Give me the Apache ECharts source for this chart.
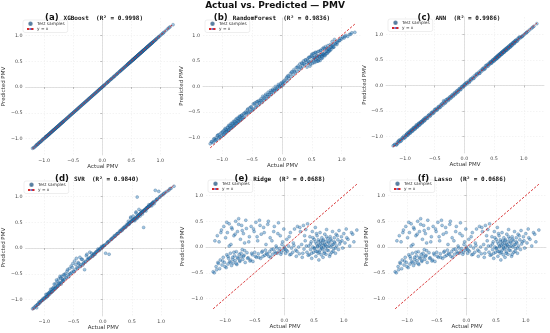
<!DOCTYPE html>
<html><head><meta charset="utf-8">
<script src="https://cdn.jsdelivr.net/npm/echarts@6/dist/echarts.min.js"></script>
<style>html,body{margin:0;padding:0;background:#fff}#c{width:550px;height:333px}</style>
</head><body><div id="c"></div>
<script>
// Shared actual PMV values of the test samples (x axis)
const actual = [
-1.20,-1.18,-1.15,-1.13,-1.12,-1.10,-1.09,-1.08,-1.06,-1.05,
-1.03,-1.02,-1.01,-0.99,-0.98,-0.97,-0.96,-0.95,-0.94,-0.93,
-0.92,-0.91,-0.90,-0.89,-0.88,-0.87,-0.86,-0.85,-0.84,-0.83,
-0.82,-0.81,-0.80,-0.79,-0.78,-0.77,-0.76,-0.75,-0.74,-0.73,
-0.72,-0.71,-0.70,-0.69,-0.68,-0.67,-0.66,-0.64,-0.63,-0.61,
-0.59,-0.57,-0.56,-0.54,-0.53,-0.51,-0.50,-0.48,-0.47,-0.45,
-0.44,-0.42,-0.40,-0.39,-0.37,-0.35,-0.33,-0.31,-0.30,-0.28,
-0.26,-0.24,-0.22,-0.20,-0.18,-0.16,-0.14,-0.12,-0.10,-0.08,
-0.07,-0.05,-0.03,-0.02,-0.01,
0.01,0.02,0.04,0.05,0.07,0.09,0.10,0.12,0.14,0.15,0.17,0.19,0.20,0.22,0.24,0.25,0.27,0.29,0.30,0.32,0.33,0.35,0.36,0.38,0.39,
0.41,0.42,0.43,0.44,0.45,0.46,0.47,0.48,0.49,0.50,
0.51,0.52,0.53,0.54,0.55,0.55,0.56,0.57,0.58,0.58,
0.59,0.60,0.60,0.61,0.62,0.62,0.63,0.64,0.64,0.65,
0.66,0.66,0.67,0.68,0.68,0.69,0.70,0.70,0.71,0.72,
0.73,0.74,0.75,0.76,0.77,0.78,0.79,0.80,0.81,0.82,
0.83,0.84,0.85,0.86,0.87,0.88,0.90,0.91,0.92,0.94,
0.96,0.98,1.00,1.02,1.04,1.07,1.10,1.13,1.17,1.22,
-1.17,-1.14,-1.11,-1.07,-1.04,-1.00,-0.97,-0.95,-0.93,-0.91,-0.89,-0.87,-0.85,-0.83,-0.81,-0.79,-0.77,-0.75,-0.73,-0.71,-0.69,-0.67,-0.65,-0.62,-0.60,-0.58,-0.55,-0.52,-0.49,-0.46,
-0.43,-0.41,-0.38,-0.36,-0.34,-0.32,-0.29,-0.27,-0.25,-0.23,-0.21,-0.19,-0.17,-0.15,-0.13,-0.11,-0.09,-0.06,-0.04,0.00,
0.03,0.08,0.11,0.16,0.21,0.26,0.31,0.34,0.37,0.40,
0.44,0.46,0.48,0.50,0.52,0.53,0.54,0.56,0.57,0.59,0.61,0.63,0.65,0.67,0.69,0.71,0.72,0.74,0.75,0.77,0.78,0.80,0.82,0.84,0.86,0.89,0.93,0.97,1.05,1.15
];
const xgbPred = [
-1.19,-1.18,-1.15,-1.12,-1.12,-1.10,-1.08,-1.08,-1.06,-1.05,
-1.03,-1.01,-1.01,-0.99,-0.98,-0.96,-0.96,-0.95,-0.94,-0.93,
-0.92,-0.91,-0.90,-0.89,-0.88,-0.87,-0.86,-0.85,-0.84,-0.83,
-0.82,-0.81,-0.80,-0.79,-0.78,-0.77,-0.76,-0.75,-0.74,-0.73,
-0.72,-0.71,-0.70,-0.69,-0.68,-0.67,-0.66,-0.64,-0.63,-0.61,
-0.59,-0.57,-0.56,-0.54,-0.53,-0.51,-0.50,-0.48,-0.47,-0.45,
-0.44,-0.42,-0.40,-0.39,-0.37,-0.35,-0.33,-0.31,-0.30,-0.28,
-0.26,-0.24,-0.22,-0.20,-0.18,-0.16,-0.14,-0.12,-0.10,-0.08,
-0.07,-0.05,-0.03,-0.02,-0.01,
0.01,0.02,0.04,0.05,0.07,0.09,0.10,0.12,0.14,0.15,0.17,0.19,0.20,0.22,0.24,0.25,0.27,0.29,0.30,0.32,0.33,0.35,0.36,0.38,0.39,
0.41,0.42,0.43,0.44,0.45,0.46,0.47,0.48,0.49,0.50,
0.51,0.52,0.53,0.54,0.55,0.55,0.56,0.57,0.58,0.58,
0.59,0.60,0.60,0.61,0.62,0.62,0.63,0.64,0.64,0.65,
0.66,0.66,0.67,0.68,0.68,0.69,0.70,0.70,0.71,0.72,
0.73,0.74,0.75,0.76,0.77,0.78,0.79,0.80,0.81,0.82,
0.83,0.84,0.85,0.86,0.87,0.88,0.90,0.91,0.92,0.94,
0.96,0.98,1.00,1.02,1.04,1.07,1.10,1.13,1.17,1.21,
-1.17,-1.14,-1.11,-1.07,-1.04,-1.00,-0.97,-0.95,-0.93,-0.91,-0.89,-0.87,-0.85,-0.83,-0.81,-0.79,-0.77,-0.75,-0.73,-0.71,-0.69,-0.67,-0.65,-0.62,-0.60,-0.58,-0.55,-0.52,-0.49,-0.46,
-0.43,-0.41,-0.38,-0.36,-0.34,-0.32,-0.29,-0.27,-0.25,-0.23,-0.21,-0.19,-0.17,-0.15,-0.13,-0.11,-0.09,-0.06,-0.04,0.00,
0.03,0.08,0.11,0.16,0.21,0.26,0.31,0.34,0.37,0.40,
0.44,0.46,0.48,0.50,0.52,0.53,0.54,0.56,0.57,0.59,0.61,0.63,0.65,0.67,0.69,0.71,0.72,0.74,0.75,0.77,0.78,0.80,0.82,0.84,0.86,0.89,0.93,0.97,1.05,1.15
];
const rfPred = [
-1.12,-1.08,-1.10,-1.02,-1.06,-1.00,-1.04,-0.96,-1.01,-0.94,
-0.99,-0.91,-0.97,-0.88,-0.95,-0.86,-0.92,-0.82,-0.90,-0.85,
-0.88,-0.80,-0.86,-0.76,-0.85,-0.78,-0.82,-0.72,-0.80,-0.74,
-0.79,-0.68,-0.76,-0.70,-0.74,-0.64,-0.73,-0.66,-0.70,-0.62,
-0.69,-0.60,-0.66,-0.58,-0.64,-0.56,-0.63,-0.53,-0.60,-0.50,
-0.52,-0.44,-0.52,-0.42,-0.49,-0.40,-0.47,-0.34,-0.44,-0.32,
-0.41,-0.30,-0.37,-0.28,-0.34,-0.24,-0.31,-0.22,-0.27,-0.18,
-0.24,-0.16,-0.20,-0.12,-0.16,-0.08,-0.12,-0.05,-0.08,-0.01,
-0.05,0.02,-0.01,0.06,0.01,
0.06,0.03,0.12,0.07,0.15,0.11,0.21,0.15,0.25,0.19,0.29,0.23,0.33,0.27,0.37,0.30,0.40,0.33,0.44,0.36,0.46,0.40,0.50,0.43,0.52,
0.47,0.38,0.54,0.45,0.57,0.48,0.40,0.58,0.50,0.63,
0.45,0.57,0.52,0.65,0.47,0.58,0.54,0.66,0.49,0.60,
0.56,0.68,0.50,0.59,0.53,0.69,0.58,0.51,0.62,0.71,
0.55,0.63,0.60,0.74,0.56,0.64,0.61,0.76,0.65,0.60,
0.78,0.64,0.70,0.65,0.80,0.68,0.74,0.70,0.82,0.72,
0.77,0.88,0.76,0.82,0.77,0.92,0.83,0.87,0.82,0.89,
0.90,0.94,0.93,0.97,0.95,1.00,0.98,1.02,1.05,1.06,
-1.08,-1.03,-1.05,-0.95,-0.99,-0.90,-0.94,-0.84,-0.89,-0.80,-0.85,-0.76,-0.81,-0.72,-0.77,-0.68,-0.72,-0.62,-0.68,-0.58,-0.65,-0.56,-0.60,-0.52,-0.55,-0.46,-0.50,-0.40,-0.45,-0.34,
-0.38,-0.30,-0.32,-0.27,-0.28,-0.19,-0.24,-0.15,-0.20,-0.11,-0.16,-0.08,-0.11,-0.05,-0.08,0.00,-0.05,0.04,0.00,0.08,
0.10,0.18,0.20,0.28,0.30,0.37,0.38,0.45,0.45,0.52,
0.50,0.57,0.44,0.60,0.64,0.48,0.56,0.67,0.53,0.60,0.50,0.58,0.70,0.58,0.63,0.74,0.62,0.69,0.75,0.68,0.74,0.72,0.78,0.80,0.78,0.84,0.86,0.90,0.98,1.02
];
const annPred = [
-1.18,-1.16,-1.16,-1.11,-1.13,-1.07,-1.10,-1.06,-1.07,-1.03,
-1.04,-0.99,-1.02,-0.97,-0.99,-0.95,-0.97,-0.92,-0.95,-0.91,
-0.93,-0.88,-0.91,-0.87,-0.89,-0.84,-0.87,-0.82,-0.85,-0.81,
-0.83,-0.77,-0.81,-0.77,-0.79,-0.74,-0.77,-0.73,-0.75,-0.71,
-0.73,-0.69,-0.71,-0.67,-0.69,-0.64,-0.67,-0.62,-0.64,-0.59,
-0.57,-0.58,-0.54,-0.55,-0.51,-0.52,-0.47,-0.49,-0.45,-0.46,
-0.42,-0.43,-0.38,-0.40,-0.35,-0.30,-0.34,-0.28,-0.31,-0.26,
-0.27,-0.22,-0.23,-0.18,-0.19,-0.14,-0.15,-0.10,-0.11,-0.06,
-0.08,-0.03,-0.04,0.00,-0.02,
0.03,0.01,0.06,0.04,0.09,0.08,0.12,0.11,0.16,0.14,0.19,0.18,0.22,0.21,0.26,0.24,0.29,0.28,0.32,0.31,0.35,0.34,0.39,0.37,0.41,
0.43,0.41,0.45,0.43,0.47,0.45,0.49,0.47,0.51,0.49,
0.53,0.51,0.55,0.53,0.57,0.54,0.58,0.56,0.60,0.57,
0.61,0.59,0.62,0.60,0.64,0.61,0.65,0.63,0.66,0.64,
0.68,0.65,0.69,0.67,0.70,0.68,0.72,0.69,0.73,0.71,
0.75,0.73,0.77,0.75,0.79,0.77,0.81,0.79,0.83,0.81,
0.85,0.83,0.87,0.85,0.89,0.87,0.92,0.90,0.94,0.93,
0.95,0.97,0.99,1.01,1.03,1.06,1.09,1.12,1.16,1.21,
-1.15,-1.16,-1.09,-1.09,-1.02,-1.02,-0.95,-0.97,-0.91,-0.93,-0.87,-0.89,-0.83,-0.85,-0.79,-0.81,-0.75,-0.77,-0.71,-0.73,-0.67,-0.69,-0.63,-0.64,-0.58,-0.60,-0.53,-0.54,-0.47,-0.48,
-0.41,-0.43,-0.36,-0.38,-0.32,-0.34,-0.27,-0.29,-0.23,-0.25,-0.19,-0.21,-0.15,-0.17,-0.11,-0.13,-0.07,-0.08,-0.02,0.02,
0.05,0.06,0.13,0.14,0.23,0.24,0.33,0.32,0.39,0.38,
0.46,0.44,0.50,0.48,0.54,0.51,0.56,0.54,0.59,0.57,0.63,0.61,0.67,0.65,0.71,0.69,0.74,0.72,0.77,0.75,0.80,0.78,0.84,0.82,0.88,0.87,0.95,0.96,1.04,1.14
];
const svrPred = [
-1.18,-1.17,-1.13,-1.16,-1.10,-1.09,-1.05,-1.07,-1.04,-1.02,
-1.01,-0.98,-1.00,-0.96,-0.97,-0.94,-0.95,-0.90,-0.93,-0.91,
-0.88,-0.90,-0.85,-0.87,-0.86,-0.80,-0.84,-0.83,-0.76,-0.81,
-0.78,-0.70,-0.77,-0.76,-0.65,-0.74,-0.72,-0.60,-0.70,-0.68,
-0.58,-0.67,-0.55,-0.64,-0.62,-0.52,-0.61,-0.50,-0.57,-0.45,
-0.52,-0.40,-0.50,-0.35,-0.47,-0.30,-0.45,-0.25,-0.42,-0.20,
-0.38,-0.28,-0.35,-0.18,-0.32,-0.22,-0.30,-0.42,-0.26,-0.15,
-0.22,-0.20,-0.08,-0.17,-0.15,-0.12,-0.11,-0.08,-0.07,-0.02,
-0.04,-0.02,0.00,0.03,0.01,
0.04,0.05,0.06,-0.10,0.09,0.12,0.12,0.14,0.17,0.17,0.20,0.21,0.24,0.24,0.27,0.28,0.29,0.33,0.32,0.36,0.34,0.39,0.38,0.42,0.40,
0.45,0.44,0.47,0.52,0.46,0.49,0.50,0.60,0.51,0.52,
0.53,0.62,0.55,0.56,0.57,0.53,0.58,0.70,0.60,0.57,
0.99,0.62,0.59,0.63,0.64,0.75,0.65,0.66,0.62,0.67,
0.68,0.72,0.69,0.70,0.66,0.71,0.72,0.40,0.73,0.74,
0.75,0.72,0.78,0.77,0.79,0.80,0.84,0.81,0.82,0.84,
0.85,0.82,0.87,0.88,0.90,0.86,1.12,0.92,0.94,0.95,
1.10,0.99,1.02,1.03,1.05,1.08,1.10,1.12,1.16,1.20,
-1.15,-1.12,-1.09,-1.05,-1.02,-0.98,-0.90,-0.94,-0.88,-0.86,-0.80,-0.85,-0.78,-0.70,-0.79,-0.62,-0.74,-0.68,-0.55,-0.70,-0.60,-0.64,-0.52,-0.58,-0.42,-0.56,-0.50,-0.38,-0.46,-0.32,
-0.40,-0.30,-0.36,-0.22,-0.33,-0.28,-0.27,-0.12,-0.23,-0.20,-0.19,-0.10,-0.16,-0.13,-0.12,-0.08,-0.06,-0.05,-0.02,0.02,
0.05,0.10,-0.12,0.18,0.23,0.28,0.33,0.36,0.40,0.42,
0.46,0.48,0.58,0.52,0.54,0.55,0.56,0.58,0.68,0.61,0.63,0.65,0.67,0.69,0.71,0.73,0.74,0.76,0.77,0.79,0.80,0.82,0.84,0.86,0.88,0.90,0.95,0.99,1.06,1.15
];
const ridgePred = [
-0.48,-0.50,-0.38,0.22,-0.30,0.10,-0.42,-0.25,0.33,-0.35,
-0.20,0.40,-0.30,0.18,-0.40,-0.15,0.28,-0.33,-0.22,0.45,
-0.28,-0.12,0.05,-0.36,0.35,-0.20,-0.31,0.22,-0.17,-0.26,
0.50,-0.09,-0.34,0.30,-0.22,0.55,-0.14,-0.28,0.15,-0.19,
0.42,-0.05,-0.24,0.26,-0.16,0.08,-0.30,0.36,-0.11,-0.21,
0.20,-0.25,0.40,-0.15,-0.28,0.30,-0.10,0.48,-0.20,0.12,
-0.13,0.52,-0.22,0.25,-0.08,0.38,-0.16,0.05,-0.12,0.44,
-0.18,0.18,-0.05,-0.14,0.30,-0.09,0.02,-0.12,0.47,-0.03,
0.22,-0.10,0.10,-0.06,0.35,
-0.04,-0.12,0.15,-0.08,0.02,-0.15,0.28,-0.02,-0.10,0.08,0.35,-0.06,-0.18,0.40,0.00,-0.13,0.30,0.05,-0.20,0.42,-0.04,0.12,0.34,-0.10,0.45,
0.02,-0.15,0.20,-0.05,0.10,-0.22,0.30,0.00,-0.10,0.15,
-0.02,0.38,-0.18,0.06,-0.08,0.22,0.02,-0.12,0.10,-0.25,
0.04,0.28,-0.06,0.12,-0.15,0.00,0.18,-0.04,0.08,-0.20,
0.14,0.03,-0.09,0.25,0.05,-0.02,0.10,-0.14,0.34,0.01,
0.16,-0.07,0.08,-0.18,0.20,0.00,0.12,-0.10,0.30,0.05,
-0.03,0.18,0.08,-0.12,0.25,0.02,0.14,-0.05,0.32,0.10,
0.20,-0.02,0.26,0.08,0.35,0.15,0.02,0.28,0.10,0.33,
0.12,-0.44,-0.32,0.28,-0.27,-0.38,0.48,-0.18,0.02,-0.30,0.38,-0.24,-0.10,0.25,-0.32,-0.20,0.44,-0.26,-0.12,0.32,-0.18,-0.07,0.52,-0.22,0.10,-0.27,-0.12,0.35,-0.18,0.20,
-0.20,0.42,-0.10,-0.18,0.28,-0.06,-0.14,0.50,-0.09,-0.20,0.12,-0.04,0.40,-0.12,-0.02,0.26,-0.08,-0.14,0.05,0.00,
-0.06,0.20,-0.14,0.03,-0.08,0.38,-0.12,0.22,0.02,-0.16,
0.06,-0.12,0.18,-0.03,0.10,-0.08,0.26,0.00,0.14,-0.10,0.06,-0.02,0.12,-0.12,0.04,0.20,-0.06,0.10,0.02,-0.14,0.15,0.04,-0.08,0.10,-0.02,0.22,0.06,0.12,0.18,0.25
];
const lassoPred = [
-0.48,-0.50,-0.38,0.22,-0.30,0.10,-0.42,-0.25,0.33,-0.35,
-0.20,0.40,-0.30,0.18,-0.40,-0.15,0.28,-0.33,-0.22,0.45,
-0.28,-0.12,0.05,-0.36,0.35,-0.20,-0.31,0.22,-0.17,-0.26,
0.50,-0.09,-0.34,0.30,-0.22,0.55,-0.14,-0.28,0.15,-0.19,
0.42,-0.05,-0.24,0.26,-0.16,0.08,-0.30,0.36,-0.11,-0.21,
0.20,-0.25,0.40,-0.15,-0.28,0.30,-0.10,0.48,-0.20,0.12,
-0.13,0.52,-0.22,0.25,-0.08,0.38,-0.16,0.05,-0.12,0.44,
-0.18,0.18,-0.05,-0.14,0.30,-0.09,0.02,-0.12,0.47,-0.03,
0.22,-0.10,0.10,-0.06,0.35,
-0.04,-0.12,0.15,-0.08,0.02,-0.15,0.28,-0.02,-0.10,0.08,0.35,-0.06,-0.18,0.40,0.00,-0.13,0.30,0.05,-0.20,0.42,-0.04,0.12,0.34,-0.10,0.45,
0.02,-0.15,0.20,-0.05,0.10,-0.22,0.30,0.00,-0.10,0.15,
-0.02,0.38,-0.18,0.06,-0.08,0.22,0.02,-0.12,0.10,-0.25,
0.04,0.28,-0.06,0.12,-0.15,0.00,0.18,-0.04,0.08,-0.20,
0.14,0.03,-0.09,0.25,0.05,-0.02,0.10,-0.14,0.34,0.01,
0.16,-0.07,0.08,-0.18,0.20,0.00,0.12,-0.10,0.30,0.05,
-0.03,0.18,0.08,-0.12,0.25,0.02,0.14,-0.05,0.32,0.10,
0.20,-0.02,0.26,0.08,0.35,0.15,0.02,0.28,0.10,0.33,
0.12,-0.44,-0.32,0.28,-0.27,-0.38,0.48,-0.18,0.02,-0.30,0.38,-0.24,-0.10,0.25,-0.32,-0.20,0.44,-0.26,-0.12,0.32,-0.18,-0.07,0.52,-0.22,0.10,-0.27,-0.12,0.35,-0.18,0.20,
-0.20,0.42,-0.10,-0.18,0.28,-0.06,-0.14,0.50,-0.09,-0.20,0.12,-0.04,0.40,-0.12,-0.02,0.26,-0.08,-0.14,0.05,0.00,
-0.06,0.20,-0.14,0.03,-0.08,0.38,-0.12,0.22,0.02,-0.16,
0.06,-0.12,0.18,-0.03,0.10,-0.08,0.26,0.00,0.14,-0.10,0.06,-0.02,0.12,-0.12,0.04,0.20,-0.06,0.10,0.02,-0.14,0.15,0.04,-0.08,0.10,-0.02,0.22,0.06,0.12,0.18,0.25
];
const panelLetters = ['(a)','(b)','(c)','(d)','(e)','(f)'];
const modelNames = ['XGBoost','RandomForest','ANN','SVR','Ridge','Lasso'];
const r2Values = ['0.9998','0.9836','0.9986','0.9840','0.0688','0.0686'];
const predictions = [xgbPred, rfPred, annPred, svrPred, ridgePred, lassoPred];
const tickValues = [-1.0,-0.5,0.0,0.5,1.0];
const mainTitle = 'Actual vs. Predicted — PMV';
const xLabel = 'Actual PMV';
const yLabel = 'Predicted PMV';

// layout (pixels)
const grids = [
  {left:21, top:18, width:159, height:137, tx:94, ty:9},
  {left:203, top:18, width:159, height:136, tx:272, ty:9},
  {left:386, top:17, width:158, height:136, tx:459, ty:9},
  {left:22, top:179, width:159, height:137, tx:97, ty:170},
  {left:206, top:178, width:158, height:137, tx:280, ty:170},
  {left:388, top:178, width:158, height:137, tx:462, ty:170}
];
const yNameX = [5, 185, 366, 5, 184, 372];

const fmt = v => (v < 0 ? '\u2212' : '') + Math.abs(v).toFixed(1);
const lo = Math.min(...actual), hi = Math.max(...actual);
const option = {
  animation:false,
  backgroundColor:'#fff',
  title:[{text:mainTitle, left:275, top:1, padding:0, textAlign:'center',
    textStyle:{fontSize:9, fontWeight:'bold', fontFamily:'DejaVu Sans', color:'#111'}}],
  grid:[], xAxis:[], yAxis:[], series:[], legend:[]
};
grids.forEach((g,i)=>{
  option.grid.push({left:g.left, top:g.top, width:g.width, height:g.height, containLabel:false});
  option.title.push({
    text:'{l|'+panelLetters[i]+'} {m|'+modelNames[i]+'  (R\u00b2 = '+r2Values[i]+')}',
    left:g.tx, top:g.ty, padding:0, textAlign:'center',
    textStyle:{rich:{l:{fontSize:8.5, fontWeight:'bold', fontFamily:'DejaVu Sans', color:'#111'},
                     m:{fontSize:6, fontWeight:'bold', fontFamily:'DejaVu Sans Mono', color:'#111'}}}
  });
  const axisCommon = {
    type:'value', min:-1.32, max:1.34, gridIndex:i,
    axisLine:{show:true, lineStyle:{color:'#cfcfcf', width:0.6}},
    axisTick:{show:true, length:2, customValues:tickValues, lineStyle:{color:'#888', width:0.5}},
    axisLabel:{customValues:tickValues, formatter:fmt, fontSize:4.8, color:'#444', margin:3, fontFamily:'DejaVu Sans'},
    splitLine:{show:true, lineStyle:{color:'#e8e8e8', width:0.5, type:[1.5,1.5]}},
    nameLocation:'middle',
    nameTextStyle:{fontSize:5.5, color:'#333', fontFamily:'DejaVu Sans'}
  };
  option.xAxis.push(Object.assign({}, axisCommon, {name:xLabel, nameGap:9}));
  option.yAxis.push(Object.assign({}, axisCommon, {name:yLabel, nameGap:g.left - yNameX[i] - 2}));
  option.series.push({
    type:'scatter', name:'Test samples', xAxisIndex:i, yAxisIndex:i,
    data: actual.map((a,k)=>[a, predictions[i][k]]),
    symbolSize:3,
    itemStyle:{color:'rgba(40,125,190,0.55)', borderColor:'rgba(15,65,110,0.75)', borderWidth:0.4}
  });
  option.series.push({
    type:'line', name:'y = x', xAxisIndex:i, yAxisIndex:i, symbol:'none',
    data:[[lo,lo],[hi,hi]],
    lineStyle:{color:'#d62728', width:0.9, type:[2.5,1.5]}, z:5
  });
  option.legend.push({
    left:g.left+2, top:g.top+2, orient:'vertical',
    data:[{name:'Test samples', icon:'circle'}, {name:'y = x'}],
    backgroundColor:'rgba(255,255,255,0.9)', borderColor:'#dddddd', borderWidth:0.5, borderRadius:2,
    padding:[1.5,3], itemGap:1, itemWidth:7, itemHeight:2.5,
    textStyle:{fontSize:4.3, color:'#333', padding:[0,0,0,-2], fontFamily:'DejaVu Sans'}
  });
});
const chart = echarts.init(document.getElementById('c'), null, {renderer:'canvas'});
chart.setOption(option);
</script></body></html>
